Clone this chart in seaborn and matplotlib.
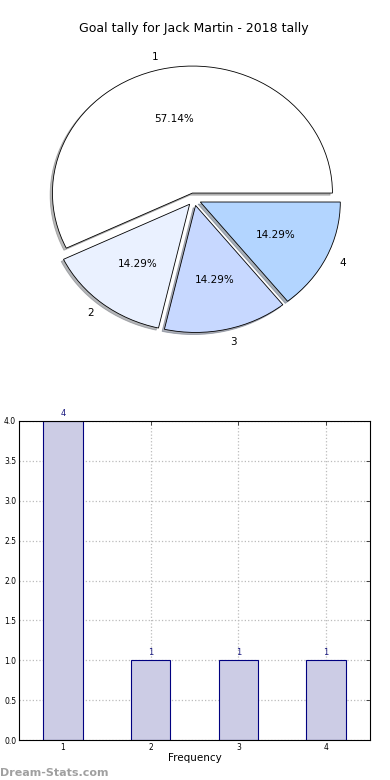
import pandas as pd
import matplotlib
matplotlib.use("Agg")
import matplotlib.pyplot as plt
import seaborn as sns

# Data
goals = ["1", "2", "3", "4"]
frequency = [4, 1, 1, 1]
slice_colors = ["#FFFFFF", "#EAF1FF", "#C7D8FF", "#B3D5FF"]
y_ticks = [0.0, 0.5, 1.0, 1.5, 2.0, 2.5, 3.0, 3.5, 4.0]

title = "Goal tally for Jack Martin - 2018 tally"

sns.set_style("white")
plt.rcParams["font.family"] = ["DejaVu Sans"]
plt.rcParams["text.color"] = "black"
plt.rcParams["xtick.color"] = "black"
plt.rcParams["ytick.color"] = "black"
plt.rcParams["axes.labelcolor"] = "black"

fig = plt.figure(figsize=(3.9, 7.8), dpi=100)

# Pie chart
ax_pie = fig.add_axes([19 / 390, 1 - 358 / 780, 350 / 390, 317.5 / 780])
wedges, texts, autotexts = ax_pie.pie(
    frequency,
    labels=goals,
    colors=slice_colors,
    explode=[0.05] * len(frequency),
    autopct="%.2f%%",
    shadow={"ox": -0.012, "oy": -0.012, "shade": 0.55},
    startangle=0,
    counterclock=True,
    wedgeprops={"edgecolor": "black", "linewidth": 0.6},
    textprops={"fontsize": 7.5, "color": "black"},
)
ax_pie.set_aspect("auto")
ax_pie.set_xlim(-1.25, 1.25)
ax_pie.set_ylim(-1.25, 1.25)
ax_pie.set_title(title, fontsize=9, pad=6, color="black")

# Bar chart
df = pd.DataFrame({"goal": goals, "frequency": frequency})
ax_bar = fig.add_axes([19 / 390, 40 / 780, 351 / 390, 319 / 780])
sns.barplot(data=df, x="goal", y="frequency", ax=ax_bar, width=0.45,
            color="#CCCCE5", edgecolor="#000080", linewidth=0.8,
            saturation=1, zorder=2)
ax_bar.bar_label(ax_bar.containers[0], fontsize=6, color="#1A1A80", padding=2)
ax_bar.set_xlim(-0.5, 3.5)
ax_bar.set_ylim(0, 4)
ax_bar.set_yticks(y_ticks)
ax_bar.set_yticklabels([f"{v:.1f}" for v in y_ticks])
ax_bar.grid(True, linestyle=":", color="#BBBBBB", linewidth=0.9, zorder=0)
ax_bar.set_axisbelow(True)
ax_bar.tick_params(labelsize=5.5, direction="in", top=True, right=True,
                   length=3, width=0.5, pad=2)
ax_bar.set_xlabel("Frequency", fontsize=7.5, labelpad=1)
ax_bar.set_ylabel("")
for s in ax_bar.spines.values():
    s.set_linewidth(0.8)
    s.set_color("black")

fig.text(0.0, 0.003, "Dream-Stats.com", fontsize=8, fontweight="bold",
         color="#A0A0A0", ha="left", va="bottom")

fig.savefig("out.png", dpi=100)
